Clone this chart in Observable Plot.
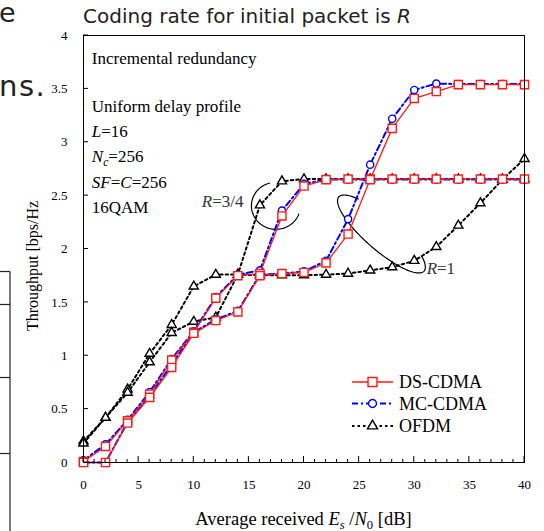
<!DOCTYPE html>
<html><head><meta charset="utf-8">
<script src="https://cdn.jsdelivr.net/npm/d3@7"></script>
<script src="https://cdn.jsdelivr.net/npm/@observablehq/plot@0.6"></script>
<style>
body{margin:0;background:#fff;}
#wrap{position:relative;width:544px;height:531px;overflow:hidden;background:#fff;}
#wrap > svg{position:absolute;left:0;top:0;}
</style></head><body><div id="wrap"></div>
<script>
// ---------------- data ----------------
const snr = [0,2,4,6,8,10,12,14,16,18,20,22,24,26,28,30,32,34,36,38,40];
const dsR34   = [0.01,0.15,0.39,0.64,0.96,1.22,1.54,1.75,1.77,2.31,2.59,2.65,2.655,2.655,2.655,2.655,2.655,2.655,2.655,2.655,2.655];
const dsR1    = [0.00,0.00,0.37,0.61,0.89,1.21,1.33,1.41,1.75,1.77,1.78,1.87,2.14,2.65,3.13,3.41,3.475,3.54,3.54,3.54,3.54];
const mcR34   = [0.02,0.17,0.40,0.66,0.97,1.23,1.55,1.76,1.80,2.36,2.61,2.65,2.65,2.65,2.65,2.65,2.65,2.65,2.65,2.65,2.65];
const mcR1    = [0.00,0.00,0.38,0.62,0.92,1.22,1.34,1.42,1.76,1.77,1.79,1.89,2.28,2.79,3.22,3.49,3.55,3.545,3.545,3.545,3.545];
const ofdmR34 = [0.20,0.42,0.685,1.02,1.29,1.65,1.76,1.76,2.41,2.635,2.655,2.655,2.655,2.655,2.655,2.655,2.655,2.655,2.655,2.655,2.655];
const ofdmR1  = [0.18,0.42,0.655,0.94,1.215,1.32,1.36,1.76,1.755,1.755,1.755,1.76,1.77,1.80,1.83,1.89,2.02,2.22,2.43,2.65,2.845];

const systems = ["DS-CDMA","MC-CDMA","OFDM"];
const rates = ["R=3/4","R=1"];
const xTicks = [0,5,10,15,20,25,30,35,40];
const xMinorTicks = [0,1,2,3,4,5,6,7,8,9,10,11,12,13,14,15,16,17,18,19,20,21,22,23,24,25,26,27,28,29,30,31,32,33,34,35,36,37,38,39,40];
const yTicks = [0,0.5,1,1.5,2,2.5,3,3.5,4];

const titleText = "Coding rate for initial packet is ";
const titleItalic = "R";
const yLabel = "Throughput [bps/Hz";
// segments: [text, style] style: "" normal, "i" italic, "is" italic subscript, "s" subscript
const xLabelSegs = [["Average received ",""],["E","i"],["s","is"],[" /",""],["N","i"],["0","s"],[" [dB]",""]];
const infoLines = [
  [["Incremental redundancy",""]],
  [["Uniform delay profile",""]],
  [["L","i"],["=16",""]],
  [["N","i"],["c","is"],["=256",""]],
  [["SF","i"],["=",""],["C","i"],["=256",""]],
  [["16QAM",""]]
];
const rateLabelSegs = [
  [["R","i"],["=3/4",""]],
  [["R","i"],["=1",""]]
];

// ---------------- layout / styles ----------------
const serif = "'Liberation Serif','Times New Roman',serif";
const styles = {
  "DS-CDMA": {stroke:"#ff1a1a", dash:null, width:1.3, symbol:"square", r:4.6},
  "MC-CDMA": {stroke:"#0000ff", dash:"6,3,2,3", width:2, symbol:"circle", r:3.6},
  "OFDM":    {stroke:"#000000", dash:"2.5,3", width:2, symbol:"triangle", r:3.4}
};
const infoPos = [[0.8,3.728],[0.8,3.279],[0.8,3.044],[0.8,2.806],[0.8,2.567],[0.8,2.333]]; // data coords of text baselines
const ratePos = [[10.77,2.392],[31.17,1.761]];

const seriesVals = {"DS-CDMA":[dsR34,dsR1],"MC-CDMA":[mcR34,mcR1],"OFDM":[ofdmR34,ofdmR1]};
const rows = [];
for (const s of systems) rates.forEach((r, k) => seriesVals[s][k].forEach((v, i) => rows.push({system:s, rate:r, x:snr[i], y:v})));

function appendSegs(textSel, segs, fs) {
  let prevSub = false;
  for (const [t, st] of segs) {
    const sp = textSel.append("tspan").text(t);
    const sub = st.includes("s");
    if (st.includes("i")) sp.attr("font-style","italic");
    if (sub) sp.attr("font-size", fs*0.68).attr("dy", fs*0.22);
    else if (prevSub) sp.attr("dy", -fs*0.22);
    prevSub = sub;
  }
}

function ticksMark(index, scales, values, dims) {
  const g = d3.create("svg:g").attr("stroke","black").attr("stroke-width",1);
  const y0 = dims.height - dims.marginBottom;
  for (const v of xMinorTicks) {
    const px = scales.x(v); const len = xTicks.includes(v) ? 6 : 3;
    g.append("line").attr("x1",px).attr("x2",px).attr("y1",y0).attr("y2",y0-len);
  }
  const x0 = dims.marginLeft;
  for (const v of yTicks) {
    const py = scales.y(v);
    g.append("line").attr("x1",x0).attr("x2",x0+5).attr("y1",py).attr("y2",py);
  }
  return g.node();
}

function textMark(index, scales, values, dims) {
  const g = d3.create("svg:g").attr("font-family", serif).attr("fill","black").attr("text-anchor","start");
  infoLines.forEach((segs, k) => {
    const t = g.append("text").attr("x", scales.x(infoPos[k][0])).attr("y", scales.y(infoPos[k][1])).attr("font-size",17);
    appendSegs(t, segs, 17);
  });
  rateLabelSegs.forEach((segs, k) => {
    const t = g.append("text").attr("x", scales.x(ratePos[k][0])).attr("y", scales.y(ratePos[k][1])).attr("font-size",17).attr("fill","#333");
    appendSegs(t, segs, 17);
  });
  // axis labels
  const cx = (dims.marginLeft + dims.width - dims.marginRight) / 2;
  const xl = g.append("text").attr("x", cx).attr("y", dims.height - 6).attr("text-anchor","middle").attr("font-size",18.5);
  appendSegs(xl, xLabelSegs, 18.5);
  g.append("text").attr("transform", `translate(38,${dims.height - dims.marginBottom - 131}) rotate(-90)`)
    .attr("text-anchor","start").attr("font-size",16).text(yLabel);
  return g.node();
}

function ellipseMark(index, scales, values, dims) {
  const g = d3.create("svg:g").attr("fill","none").attr("stroke","black").attr("stroke-width",1.2);
  const c1 = [scales.x(17.5), scales.y(2.40)];
  const p1 = [];
  for (let a = 20; a <= 256; a += 2) { const t = a*Math.PI/180; p1.push([c1[0] + 24.5*Math.cos(t), c1[1] + 23.5*Math.sin(t)]); }
  g.append("path").attr("d", d3.line()(p1));
  const c2 = [scales.x(27.07), scales.y(2.136)];
  const ang = 41*Math.PI/180, A = 56.5, B = 16;
  const u = [Math.cos(ang), Math.sin(ang)], v = [Math.sin(ang), -Math.cos(ang)];
  const p2 = [];
  for (let a = 135; a <= 398; a += 2) { const t = a*Math.PI/180; p2.push([c2[0] + A*Math.cos(t)*u[0] + B*Math.sin(t)*v[0], c2[1] + A*Math.cos(t)*u[1] + B*Math.sin(t)*v[1]]); }
  g.append("path").attr("d", d3.line()(p2));
  return g.node();
}

function legendMark(index, scales, values, dims) {
  const g = d3.create("svg:g").attr("font-family", serif).attr("font-size", 18).attr("text-anchor","start");
  const bottom = dims.height - dims.marginBottom;
  const offs = [80, 58.5, 36];
  systems.forEach((s, k) => {
    const st = styles[s];
    const y = bottom - offs[k];
    g.append("line").attr("x1",352).attr("x2",393).attr("y1",y).attr("y2",y)
      .attr("stroke",st.stroke).attr("stroke-width",st.width).attr("stroke-dasharray",st.dash);
    const sym = {square:d3.symbolSquare, circle:d3.symbolCircle, triangle:d3.symbolTriangle}[st.symbol];
    const r = st.r * 1.1;
    g.append("path").attr("d", d3.symbol(sym, r*r*Math.PI)()).attr("transform",`translate(372.5,${y})`)
      .attr("fill","white").attr("stroke",st.stroke).attr("stroke-width",1.4);
    g.append("text").attr("x",399).attr("y",y+6).text(s);
  });
  return g.node();
}

const marks = [];
for (const s of [...systems].reverse()) {
  const st = styles[s];
  const data = rows.filter(d => d.system === s);
  marks.push(Plot.line(data, {x:"x", y:"y", z:"rate", stroke:st.stroke, strokeWidth:st.width, strokeDasharray:st.dash}));
  marks.push(Plot.dot(data, {x:"x", y:"y", symbol:st.symbol, r:st.r, stroke:st.stroke, fill:"white", strokeWidth:1.4}));
}

const chart = Plot.plot({
  width: 544, height: 531,
  marginLeft: 83, marginRight: 20, marginTop: 35, marginBottom: 69,
  style: {fontFamily: serif, fontSize: "13px", background: "transparent", overflow: "visible"},
  x: {domain: [0,40]},
  y: {domain: [0,4]},
  marks: [
    ellipseMark,
    ...marks,
    Plot.frame({stroke:"black", strokeWidth:1}),
    Plot.axisX(xTicks, {tickSize:0, tickPadding:17, fontSize:13, label:null}),
    Plot.axisY(yTicks, {tickSize:0, tickPadding:16, fontSize:13, label:null, tickFormat: d => String(d)}),
    ticksMark,
    textMark,
    legendMark
  ]
});
document.getElementById("wrap").appendChild(chart);

// slide decorations (title and cropped neighbouring slide content)
const deco = d3.select("#wrap").append("svg").attr("width",544).attr("height",531).style("pointer-events","none");
const tt = deco.append("text").attr("x",83).attr("y",23).attr("font-family","'DejaVu Sans',Verdana,sans-serif").attr("font-size",20).attr("fill","#222");
tt.append("tspan").text(titleText);
tt.append("tspan").attr("font-style","italic").text(titleItalic);
deco.append("text").attr("x",-1).attr("y",22).attr("font-family","'DejaVu Sans',sans-serif").attr("font-size",27).attr("fill","#222").text("e");
deco.append("text").attr("x",-1).attr("y",96).attr("font-family","'DejaVu Sans',sans-serif").attr("font-size",29).attr("letter-spacing",1.5).attr("fill","#222").text("ns.");
const box = deco.append("g").attr("stroke","#222").attr("stroke-width",1.2);
box.append("line").attr("x1",0).attr("x2",10).attr("y1",271.5).attr("y2",271.5);
box.append("line").attr("x1",10).attr("x2",10).attr("y1",271.5).attr("y2",531);
for (const yy of [304.5,377.5,453.5]) box.append("line").attr("x1",0).attr("x2",10).attr("y1",yy).attr("y2",yy);
</script></body></html>
